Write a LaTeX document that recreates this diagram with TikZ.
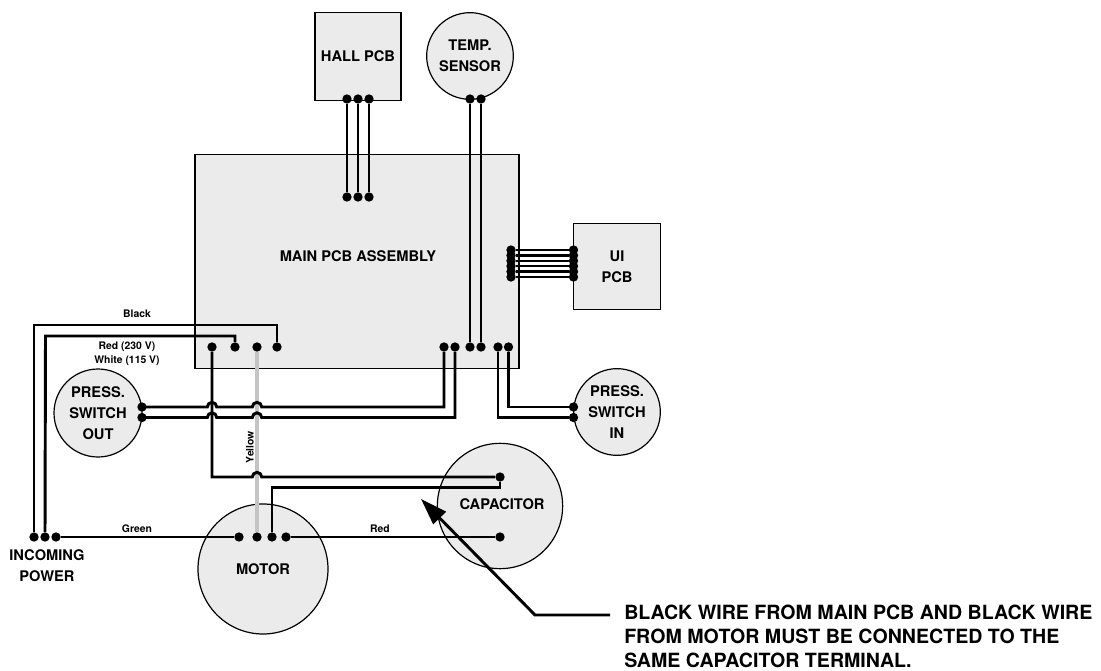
\documentclass[tikz,border=0pt]{standalone}
\usepackage{fontspec}
\setmainfont{TeX Gyre Heros}
\usetikzlibrary{arrows.meta}
\definecolor{boxgray}{HTML}{EBEBEB}
\definecolor{yellowwire}{HTML}{C4C4C4}
\tikzset{
    partbox/.style={draw,fill=boxgray,line width=0.9pt,inner sep=0pt,outer sep=0pt,align=center,
        font=\fontsize{11}{15.8}\selectfont\bfseries},
    partcirc/.style={partbox,circle},
    dot/.style={fill,circle,inner sep=0pt,minimum size=7pt},
    wire/.style={line width=2.2pt},
    tiny label/.style={font=\fontsize{7.8}{10.5}\selectfont\bfseries,align=center},
    note/.style={font=\fontsize{14.7}{17.8}\selectfont\bfseries,align=left,anchor=north west,inner sep=0pt}
}
\begin{document}
\begin{tikzpicture}[x=0.75pt,y=-0.75pt]
        \useasboundingbox (0,0) rectangle (1101,671);
        % parts
        \node[partbox,minimum width=64.5pt,minimum height=65.5pt] (hall) at (358,56.5) {HALL PCB};
        \node[partcirc,minimum size=65pt] (temp) at (470,56) {TEMP.\\SENSOR};
        \node[partbox,minimum width=243pt,minimum height=161pt] (main) at (357,261.5) {};
        \node[font=\fontsize{11}{15.8}\selectfont\bfseries] (mainlabel) at (358,256) {MAIN PCB ASSEMBLY};
        \node[partbox,minimum width=65pt,minimum height=65pt] (ui) at (617,266.5) {UI\\PCB};
        \node[partcirc,minimum size=65pt] (swin) at (617,412) {PRESS.\\SWITCH\\IN};
        \node[partcirc,minimum size=66pt] (swout) at (98,413) {PRESS.\\SWITCH\\OUT};
        \node[partcirc,minimum size=97.5pt] (motor) at (263,569) {MOTOR};
        \node[partcirc,minimum size=94pt] (cap) at (500,506) {};
        \node[font=\fontsize{11}{15.8}\selectfont\bfseries] (caplabel) at (502,504) {CAPACITOR};
        % terminals
        \foreach \n/\x in {1/347,2/358,3/369}{
            \node[dot] (ha\n) at (\x,99) {};
            \node[dot] (mh\n) at (\x,197) {};
        }
        \foreach \n/\x in {1/470,2/481}{
            \node[dot] (te\n) at (\x,99) {};
            \node[dot] (mt\n) at (\x,347) {};
        }
        \foreach \n/\y in {1/250,2/255.4,3/260.8,4/266.2,5/271.6,6/277}{
            \node[dot] (mu\n) at (511,\y) {};
            \node[dot] (ui\n) at (573.5,\y) {};
        }
        \node[dot] (ma1) at (212,347) {};
        \node[dot] (ma2) at (235,347) {};
        \node[dot] (ma3) at (257,347) {};
        \node[dot] (ma4) at (277,347) {};
        \node[dot] (mo1) at (444,347) {};
        \node[dot] (mo2) at (455,347) {};
        \node[dot] (mi1) at (498,347) {};
        \node[dot] (mi2) at (508.5,347) {};
        \node[dot] (si1) at (573.5,407) {};
        \node[dot] (si2) at (573.5,417.5) {};
        \node[dot] (so1) at (142,407) {};
        \node[dot] (so2) at (142,417.5) {};
        \node[dot] (pw1) at (34,537) {};
        \node[dot] (pw2) at (45,537) {};
        \node[dot] (pw3) at (56,537) {};
        \node[dot] (mr1) at (239,537) {};
        \node[dot] (mr2) at (257,537) {};
        \node[dot] (mr3) at (272,537) {};
        \node[dot] (mr4) at (286,537) {};
        \node[dot] (ca1) at (500,477) {};
        \node[dot] (ca2) at (500,537) {};
        % wires
        \draw[line width=2.6pt,yellowwire] (ma3) -- (mr2);
        \foreach \n in {1,2,3}{
            \draw[wire] (ha\n) -- (mh\n);
        }
        \foreach \n in {1,2}{
            \draw[wire] (te\n) -- (mt\n);
        }
        \foreach \n in {1,...,6}{
            \draw[line width=1.7pt] (mu\n) -- (ui\n);
        }
        \draw[wire] (mi2) |- (si1);
        \draw[wire] (mi1) |- (si2);
        \draw[wire] (so1.center) -- ([xshift=-3.5pt]so1 -| ma1)
            arc[start angle=180,end angle=0,radius=3.5pt]
            -- ([xshift=-3.5pt]so1 -| ma3)
            arc[start angle=180,end angle=0,radius=3.5pt]
            -- (so1 -| mo1) -- (mo1);
        \draw[wire] (so2.center) -- ([xshift=-3.5pt]so2 -| ma1)
            arc[start angle=180,end angle=0,radius=3.5pt]
            -- ([xshift=-3.5pt]so2 -| ma3)
            arc[start angle=180,end angle=0,radius=3.5pt]
            -- (so2 -| mo2) -- (mo2);
        \draw[wire] (ma1) |- ([xshift=-3.5pt]ca1 -| ma3)
            arc[start angle=180,end angle=0,radius=3.5pt]
            -- (ca1);
        \draw[wire] (mr3) |- ([yshift=-8.2pt]ca1.center) -- (ca1);
        \coordinate (blk) at (34,325);
        \coordinate (red) at (45.5,336);
        \draw[wire] (ma4) |- (blk) -- (pw1);
        \draw[wire] (ma2) |- (red) -- (pw2);
        \draw[wire] (pw3) -- (mr1);
        \draw[wire] (mr4) -- (ca2);
        % wire labels
        \node[tiny label] (lblack) at (137,314) {Black};
        \node[tiny label] (lred) at (127,354) {Red (230 V)\\White (115 V)};
        \node[tiny label,rotate=90] (lyellow) at (250,447) {Yellow};
        \node[tiny label] (lgreen) at (137,529) {Green};
        \node[tiny label] (lred2) at (380,529) {Red};
        \node[font=\fontsize{11}{15.8}\selectfont\bfseries,align=center] (power) at (47,566) {INCOMING\\POWER};
        % note
        \node[note] (notetext) at (624,605) {BLACK WIRE FROM MAIN PCB AND BLACK WIRE\\FROM MOTOR MUST BE CONNECTED TO THE\\SAME CAPACITOR TERMINAL.};
        \coordinate (leadend) at (610,615);
        \coordinate (leadbend) at (535,615);
        \coordinate (leadtip) at (421,499);
        \draw[wire,-{Triangle[length=20pt,width=13pt]}] (leadend) -- (leadbend) -- (leadtip);
\end{tikzpicture}
\end{document}
